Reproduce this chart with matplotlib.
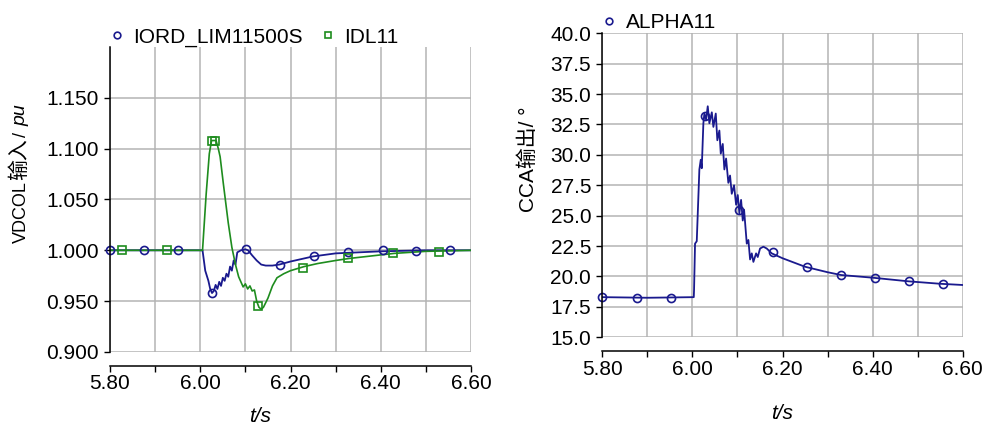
import matplotlib
matplotlib.use("Agg")
import matplotlib.pyplot as plt
from matplotlib.ticker import MultipleLocator, FuncFormatter
from matplotlib.lines import Line2D

plt.rcParams['font.family'] = ['Liberation Sans', 'Noto Sans CJK SC', 'DejaVu Sans']

# --- 左图: IORD_LIM11500S / IDL11 ---
iord_t = [5.80, 6.005, 6.011, 6.018, 6.022, 6.026, 6.030, 6.034, 6.038, 6.042, 6.046,
          6.050, 6.054, 6.058, 6.062, 6.066, 6.070, 6.074, 6.078, 6.082, 6.090, 6.100,
          6.106, 6.115, 6.125, 6.135, 6.145, 6.160, 6.175, 6.20, 6.25, 6.30, 6.35,
          6.40, 6.50, 6.60]
iord_v = [1.000, 1.000, 0.980, 0.970, 0.962, 0.958, 0.960, 0.966, 0.962, 0.969, 0.965,
          0.973, 0.970, 0.977, 0.974, 0.984, 0.980, 0.990, 0.986, 0.998, 1.000, 1.001,
          1.000, 0.995, 0.990, 0.986, 0.985, 0.985, 0.986, 0.989, 0.994, 0.997, 0.998,
          0.999, 1.000, 1.000]
iord_mt = [5.80, 5.875, 5.951, 6.025, 6.102, 6.177, 6.252, 6.327, 6.404, 6.478, 6.554]
iord_mv = [1.000, 1.000, 1.000, 0.958, 1.001, 0.986, 0.994, 0.998, 1.000, 0.999, 1.000]

idl_t = [5.80, 6.005, 6.013, 6.020, 6.025, 6.035, 6.040, 6.044, 6.051, 6.062, 6.070,
         6.078, 6.085, 6.090, 6.095, 6.100, 6.105, 6.110, 6.115, 6.120, 6.125, 6.130,
         6.135, 6.140, 6.150, 6.160, 6.170, 6.185, 6.20, 6.23, 6.26, 6.30, 6.33, 6.37,
         6.43, 6.50, 6.55, 6.60]
idl_v = [1.000, 1.000, 1.055, 1.095, 1.108, 1.108, 1.100, 1.092, 1.066, 1.027, 1.003,
         0.986, 0.974, 0.969, 0.964, 0.967, 0.962, 0.965, 0.960, 0.961, 0.950, 0.944,
         0.942, 0.944, 0.953, 0.965, 0.973, 0.977, 0.980, 0.984, 0.987, 0.990, 0.992,
         0.994, 0.997, 0.999, 0.9995, 1.000]
idl_mt = [5.826, 5.926, 6.025, 6.033, 6.127, 6.227, 6.327, 6.428, 6.529]
idl_mv = [1.000, 1.000, 1.108, 1.108, 0.945, 0.983, 0.992, 0.997, 0.998]

# --- 右图: ALPHA11 ---
alpha_t = [5.80, 5.90, 6.003, 6.0036, 6.0058, 6.0096, 6.0154, 6.0185, 6.0207, 6.0243,
           6.0265, 6.0303, 6.034, 6.0376, 6.043, 6.0465, 6.0518, 6.0553, 6.0598, 6.0629,
           6.0673, 6.0709, 6.0747, 6.0797, 6.0835, 6.0873, 6.0924, 6.0969, 6.1006,
           6.1042, 6.108, 6.1117, 6.1146, 6.1206, 6.1242, 6.128, 6.1317, 6.1353, 6.1413,
           6.145, 6.1501, 6.1575, 6.165, 6.176, 6.20, 6.25, 6.30, 6.33, 6.40, 6.48,
           6.55, 6.60]
alpha_v = [18.3, 18.25, 18.3, 18.9, 22.7, 22.9, 28.8, 29.6, 28.9, 32.6,
           33.4, 32.9, 34.0, 32.6, 33.5, 32.3, 33.4, 31.2, 32.0, 30.1,
           30.9, 28.8, 29.7, 27.7, 28.3, 26.8, 27.5, 25.9, 26.7,
           25.2, 26.3, 24.6, 25.5, 22.7, 23.0, 21.4, 21.9, 21.2, 21.9,
           21.6, 22.3, 22.45, 22.3, 21.9, 21.5, 20.8, 20.35, 20.12, 19.9, 19.6,
           19.4, 19.3]
alpha_mt = [5.80, 5.876, 5.952, 6.027, 6.103, 6.179, 6.255, 6.330, 6.406, 6.481, 6.557]
alpha_mv = [18.3, 18.2, 18.2, 33.2, 25.5, 22.0, 20.8, 20.15, 19.85, 19.6, 19.4]

blue = '#1a1a8e'
green = '#1e8c1e'
grid_c = '#b4b4b4'
MS = 5.8

fig = plt.figure(figsize=(9.85, 4.25), dpi=100)
ax1 = fig.add_axes([0.1117, 0.1718, 0.3665, 0.7176])
ax2 = fig.add_axes([0.6115, 0.2064, 0.3659, 0.7153])


def xfmt(x, pos):
    return '%.2f' % x if round(x * 10) % 2 == 0 else ''


def style(ax):
    ax.set_xlim(5.8, 6.6)
    ax.xaxis.set_major_locator(MultipleLocator(0.1))
    ax.xaxis.set_major_formatter(FuncFormatter(xfmt))
    ax.spines['top'].set_visible(False)
    ax.spines['right'].set_visible(False)
    ax.spines['bottom'].set_position(('outward', 10))
    ax.grid(True, color=grid_c, linewidth=1.1)
    ax.set_axisbelow(True)
    ax.tick_params(direction='out', length=4, width=1, labelsize=15, pad=2)
    ax.tick_params(axis='y', pad=4)
    for s in ('left', 'bottom'):
        ax.spines[s].set_linewidth(1.1)


# 左图
ax1.plot(iord_t, iord_v, color=blue, lw=1.3)
ax1.plot(idl_t, idl_v, color=green, lw=1.2)
ax1.plot(iord_mt, iord_mv, ls='none', marker='o', ms=MS, mfc='none', mec=blue, mew=1.2, clip_on=False)
ax1.plot(idl_mt, idl_mv, ls='none', marker='s', ms=MS, mfc='none', mec=green, mew=1.2, clip_on=False)
style(ax1)
ax1.set_ylim(0.9, 1.2)
ax1.set_yticks([0.90, 0.95, 1.00, 1.05, 1.10, 1.15])
ax1.yaxis.set_major_formatter(FuncFormatter(lambda v, p: '%.3f' % v))
ax1.set_xlabel('t/s', fontsize=15, style='italic')
ax1.xaxis.set_label_coords(0.416, -0.18)
h1 = [Line2D([], [], ls='none', marker='o', ms=4.8, mfc='none', mec=blue, mew=1.2),
      Line2D([], [], ls='none', marker='s', ms=4.8, mfc='none', mec=green, mew=1.2)]
ax1.legend(h1, ['IORD_LIM11500S', 'IDL11'], loc='lower left', bbox_to_anchor=(-0.005, 1.0),
           frameon=False, ncol=2, fontsize=15, handlelength=0.8, handletextpad=0.4,
           columnspacing=0.8, borderaxespad=0, borderpad=0)

# 右图
ax2.plot(alpha_t, alpha_v, color=blue, lw=1.3)
ax2.plot(alpha_mt, alpha_mv, ls='none', marker='o', ms=MS, mfc='none', mec=blue, mew=1.2, clip_on=False)
style(ax2)
ax2.set_ylim(15, 40)
ax2.yaxis.set_major_locator(MultipleLocator(2.5))
ax2.yaxis.set_major_formatter(FuncFormatter(lambda v, p: '%.1f' % v))
ax2.set_ylabel('CCA输出/ °', fontsize=15)
ax2.yaxis.set_label_coords(-0.18, 0.586)
ax2.set_xlabel('t/s', fontsize=15, style='italic')
ax2.xaxis.set_label_coords(0.5, -0.22)
h2 = [Line2D([], [], ls='none', marker='o', ms=4.8, mfc='none', mec=blue, mew=1.2)]
ax2.legend(h2, ['ALPHA11'], loc='lower left', bbox_to_anchor=(-0.005, 1.004),
           frameon=False, fontsize=15, handlelength=0.8, handletextpad=0.4,
           borderaxespad=0, borderpad=0)

# 左图 y 轴标签: 分段拼接 (pu 为斜体)
fig.canvas.draw()
r = fig.canvas.get_renderer()
W, H = fig.bbox.width, fig.bbox.height
ypos = 425 - 243
pieces = [('VDCOL', dict(fontsize=13)), ('输入', dict(fontsize=15)),
          ('/ ', dict(fontsize=13)), ('pu', dict(fontsize=14, style='italic'))]
for s, kw in pieces:
    t = fig.text(25.5 / W, ypos / H, s, rotation=90, rotation_mode='anchor',
                 ha='left', va='baseline', **kw)
    ypos += t.get_window_extent(r).height + 1

fig.savefig('out.png', dpi=100)
